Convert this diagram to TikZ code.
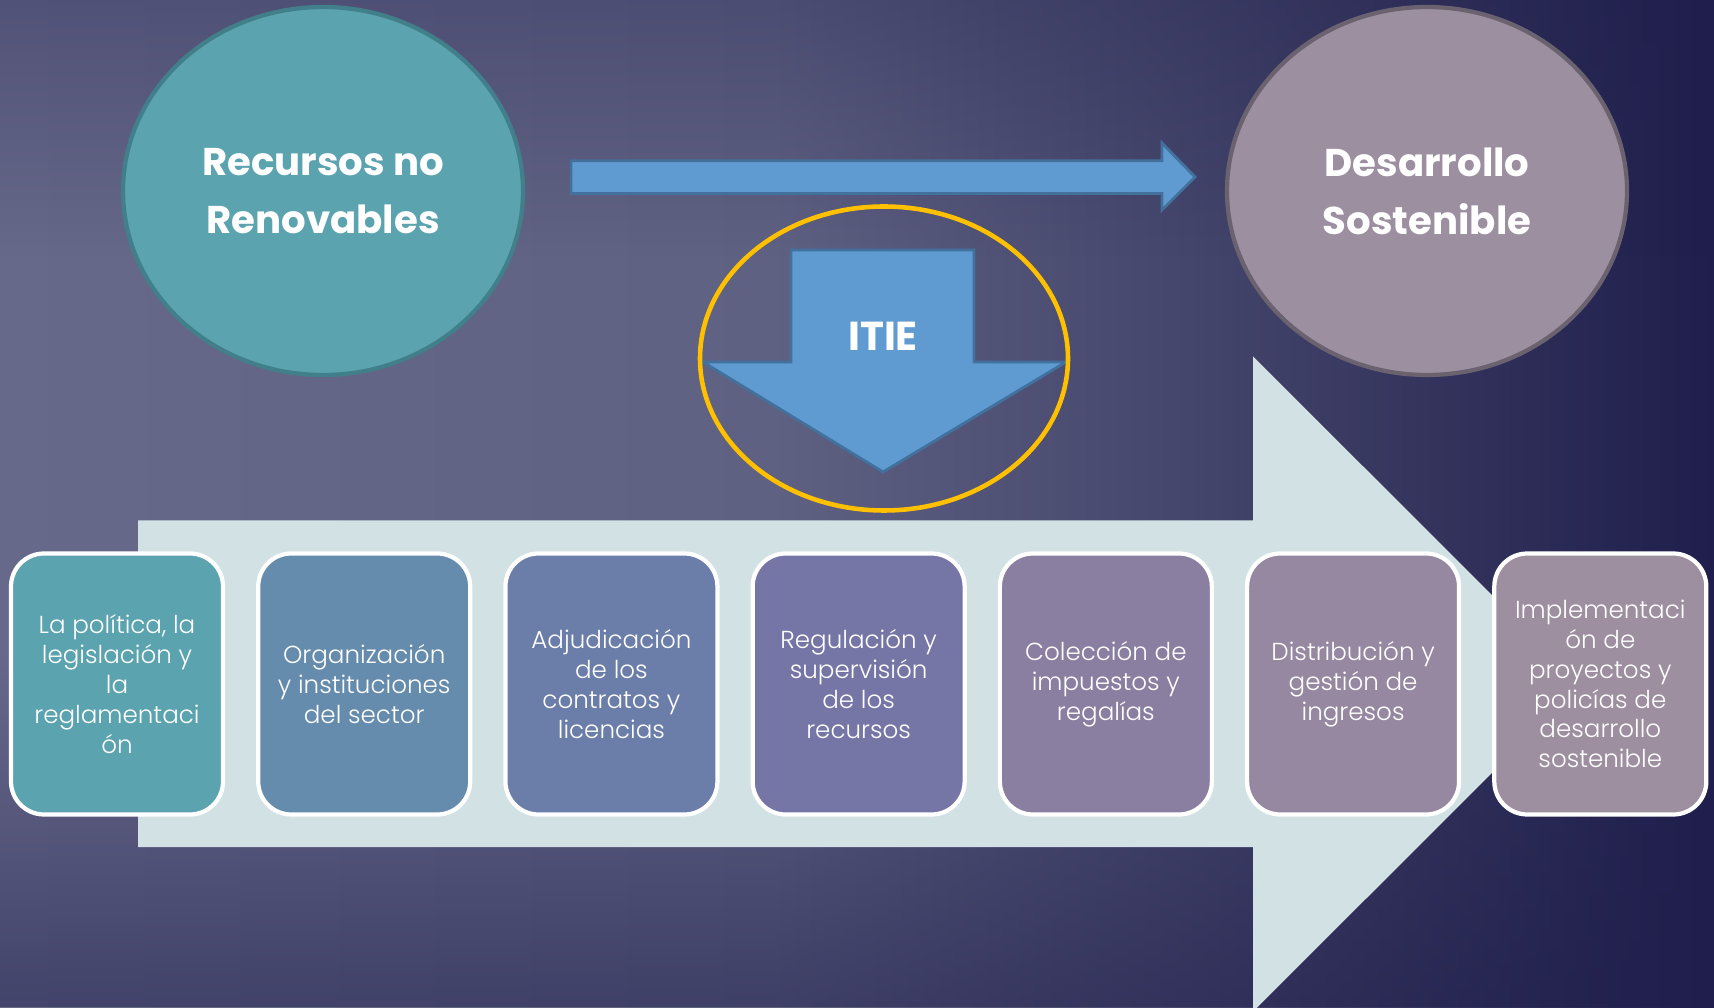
\documentclass[tikz,border=0pt]{standalone}
\usepackage{fontspec}
\setmainfont{Poppins}
\newfontfamily\ligera{Poppins Light}
\usetikzlibrary{positioning,shapes.geometric,fadings}

\definecolor{fondoclaro}{HTML}{67698A}
\definecolor{fondomedio}{HTML}{5F6182}
\definecolor{fondotarde}{HTML}{44456B}
\definecolor{fondooscuro}{HTML}{1F1E4C}
\definecolor{turquesa}{HTML}{5BA3AF}
\definecolor{turquesaborde}{HTML}{41808A}
\definecolor{malva}{HTML}{9C8FA0}
\definecolor{malvaborde}{HTML}{6B6270}
\definecolor{azul}{HTML}{5F9BD0}
\definecolor{azulborde}{HTML}{41719C}
\definecolor{dorado}{HTML}{FFC000}
\definecolor{flechaclara}{HTML}{D1E1E4}
\definecolor{etapaA}{HTML}{5BA3AF}
\definecolor{etapaB}{HTML}{668CAD}
\definecolor{etapaC}{HTML}{6B7DA9}
\definecolor{etapaD}{HTML}{7576A6}
\definecolor{etapaE}{HTML}{8A7FA1}
\definecolor{etapaF}{HTML}{9788A1}
\definecolor{etapaG}{HTML}{9D8FA0}

\pgfdeclarehorizontalshading{fondogradiente}{100bp}{color(0bp)=(fondoclaro); color(25bp)=(fondoclaro);
  color(47.5bp)=(fondomedio); color(60bp)=(fondotarde); color(75bp)=(fondooscuro); color(100bp)=(fondooscuro)}

\tikzset{
  circulo/.style={ellipse, fill=#1, minimum width=4cm, minimum height=3.68cm,
    line width=1.2pt, text=white, align=center,
    font=\bfseries\fontsize{11}{16.5}\selectfont},
  etapa/.style={draw=white, line width=1.2pt, rounded corners=0.33cm, fill=#1,
    minimum width=2.12cm, minimum height=2.61cm, inner sep=0pt,
    text=white, align=center, font=\ligera\fontsize{7}{8.5}\selectfont}
}

\begin{document}
\begin{tikzpicture}
  % Fondo
  \clip (0,0) rectangle (17.14,10.07);
  \shade[shading=fondogradiente] (0,0) rectangle (17.14,10.07);
  \fill[fondooscuro, fill opacity=0.3, path fading=south] (0,7.5) rectangle (17.14,10.07);
  \fill[fondooscuro, fill opacity=0.5, path fading=north] (0,0) rectangle (17.14,3.5);

  % Flecha grande del proceso
  \fill[flechaclara] (1.38,4.867) -- (12.53,4.867) -- (12.53,6.506) -- (15.81,3.23)
    -- (12.53,-0.046) -- (12.53,1.598) -- (1.38,1.598) -- cycle;

  % Circulos de los extremos
  \node[circulo=turquesa, draw=turquesaborde] (recursos) at (3.23,8.16) {Recursos no\\Renovables};
  \node[circulo=malva, draw=malvaborde] (desarrollo) at (14.27,8.16) {Desarrollo\\Sostenible};

  % Flecha horizontal
  \draw[fill=azul, draw=azulborde, line width=0.8pt] (5.71,8.463) -- (11.62,8.463)
    -- (11.62,8.64) -- (11.95,8.30) -- (11.62,7.97) -- (11.62,8.135) -- (5.71,8.135) -- cycle;

  % Flecha hacia abajo con la ITIE
  \draw[fill=azul, draw=azulborde, line width=0.8pt] (7.91,7.57) -- (9.74,7.57) -- (9.74,6.45)
    -- (10.66,6.45) -- (8.83,5.35) -- (7.03,6.45) -- (7.91,6.45) -- cycle;
  \node[ellipse, draw=dorado, line width=1.3pt, minimum width=3.68cm, minimum height=3.04cm] (marco) at (8.84,6.485) {};
  \node[text=white, font=\bfseries\fontsize{11.5}{13}\selectfont] (itie) at (8.83,6.71) {ITIE};

  % Etapas de la cadena
  \node[etapa=etapaA] (politica) at (1.17,3.23) {La política, la\\legislación y\\la\\reglamentaci\\ón};
  \node[etapa=etapaB, right=0.31cm of politica] (organizacion) {Organización\\y instituciones\\del sector};
  \node[etapa=etapaC, right=0.31cm of organizacion] (adjudicacion) {Adjudicación\\de los\\contratos y\\licencias};
  \node[etapa=etapaD, right=0.31cm of adjudicacion] (regulacion) {Regulación y\\supervisión\\de los\\recursos};
  \node[etapa=etapaE, right=0.31cm of regulacion] (coleccion) {Colección de\\impuestos y\\regalías};
  \node[etapa=etapaF, right=0.31cm of coleccion] (distribucion) {Distribución y\\gestión de\\ingresos};
  \node[etapa=etapaG, right=0.31cm of distribucion] (implementacion) {Implementaci\\ón de\\proyectos y\\policías de\\desarrollo\\sostenible};
\end{tikzpicture}
\end{document}
